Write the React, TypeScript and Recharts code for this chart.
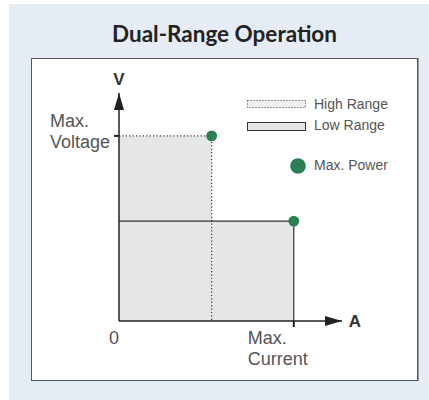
import React from "react";
import {
  ComposedChart,
  Area,
  Line,
  Scatter,
  XAxis,
  YAxis,
  Legend,
} from "recharts";

// normalised: 1 = max current / max voltage
const highRangeFill = [
  { a: 0, v: 1 },
  { a: 0.53, v: 1 },
];
const lowRangeFill = [
  { a: 0, v: 0.54 },
  { a: 1, v: 0.54 },
];
const highRangeEdge = [
  { a: 0, v: 1 },
  { a: 0.53, v: 1 },
  { a: 0.53, v: 0 },
];
const lowRangeEdge = [
  { a: 0, v: 0.54 },
  { a: 1, v: 0.54 },
  { a: 1, v: 0 },
];
const maxPower = [
  { a: 0.53, v: 1 },
  { a: 1, v: 0.54 },
];
const arrowTips = [
  { a: 1.276, v: 0, dir: "right", name: "A" },
  { a: 0, v: 1.232, dir: "up", name: "V" },
];
const xTicks = [0, 1];
const yTicks = [1];
const xTickLabels: Record<number, string[]> = { 0: ["0"], 1: ["Max.", "Current"] };
const yTickLabels: Record<number, string[]> = { 1: ["Max.", "Voltage"] };
const legendItems = ["High Range", "Low Range", "Max. Power"];

const GREEN = "#2a7f55";
const FILL = "#e5e6e8";
const INK = "#222";
const LABEL = "#555";
const FONT = "'Liberation Sans', Arial, sans-serif";

const XTick = (props: any) => {
  const { x, y, payload } = props;
  const lines = xTickLabels[payload.value] || [];
  if (payload.value === 0) {
    return (
      <text x={x - 5} y={y + 23} textAnchor="middle" fontSize={18} fill={LABEL} fontFamily={FONT}>
        {lines[0]}
      </text>
    );
  }
  return (
    <g>
      <line x1={x} y1={y} x2={x} y2={y + 6} stroke={INK} strokeWidth={2} />
      {lines.map((l, i) => (
        <text key={l} x={x - 46} y={y + 23 + i * 21} fontSize={18} fill={LABEL} fontFamily={FONT}>
          {l}
        </text>
      ))}
    </g>
  );
};

const YTick = (props: any) => {
  const { x, y, payload } = props;
  const lines = yTickLabels[payload.value] || [];
  return (
    <g>
      <line x1={x - 5} y1={y} x2={x} y2={y} stroke={INK} strokeWidth={2} />
      {lines.map((l, i) => (
        <text key={l} x={50} y={y - 9 + i * 21} fontSize={18} fill={LABEL} fontFamily={FONT}>
          {l}
        </text>
      ))}
    </g>
  );
};

const Arrow = (props: any) => {
  const { cx, cy } = props;
  const p = props.payload || {};
  if (p.dir === "right") {
    return (
      <g>
        <polygon points={`${cx},${cy} ${cx - 17},${cy - 5} ${cx - 17},${cy + 5}`} fill={INK} />
        <text x={cx + 13} y={cy + 6} textAnchor="middle" fontSize={17} fontWeight="bold" fill="#333" fontFamily={FONT}>
          {p.name}
        </text>
      </g>
    );
  }
  return (
    <g>
      <polygon points={`${cx},${cy} ${cx - 5},${cy + 17} ${cx + 5},${cy + 17}`} fill={INK} />
      <text x={cx} y={cy - 8} textAnchor="middle" fontSize={17} fontWeight="bold" fill="#333" fontFamily={FONT}>
        {p.name}
      </text>
    </g>
  );
};

const Dot = (props: any) => <circle cx={props.cx} cy={props.cy} r={5.4} fill={GREEN} />;

const LegendBox = () => (
  <svg width={170} height={85}>
    <rect x={2.5} y={6.5} width={58} height={7} fill="#eeeff0" stroke="#333" strokeDasharray="1 2" />
    <rect x={2.5} y={28.5} width={58} height={8} fill={FILL} stroke="#333" />
    <circle cx={53} cy={72} r={7.8} fill={GREEN} />
    {legendItems.map((t, i) => (
      <text key={t} x={69} y={[15, 36, 76][i]} fontSize={14} fill={LABEL} fontFamily={FONT}>
        {t}
      </text>
    ))}
  </svg>
);

export default function App() {
  return (
    <div style={{ position: "absolute", left: 0, top: 0, width: 429, height: 400 }}>
      <div style={{ position: "absolute", left: 9, top: 4, width: 420, height: 396, background: "#e5ecf6" }} />
      <div
        style={{
          position: "absolute",
          left: 31,
          top: 58,
          width: 385,
          height: 321,
          background: "#fff",
          border: "1px solid #555",
          boxShadow: "1px 0 0 #999",
        }}
      />
      <div
        style={{
          position: "absolute",
          left: 31,
          top: 20,
          width: 387,
          textAlign: "center",
          fontFamily: "Lato, 'Open Sans', sans-serif",
          fontWeight: 700,
          fontSize: 22.5,
          color: "#222",
          lineHeight: "28px",
        }}
      >
        Dual-Range Operation
      </div>
      <div style={{ position: "absolute", left: 0, top: 0 }}>
        <ComposedChart width={429} height={400} margin={{ top: 93, right: 87, bottom: 39, left: 39 }}>
          <XAxis
            dataKey="a"
            type="number"
            domain={[0, 1.276]}
            ticks={xTicks}
            height={40}
            tickSize={0}
            tickMargin={0}
            tickLine={false}
            axisLine={{ stroke: INK, strokeWidth: 1.5 }}
            tick={<XTick />}
          />
          <YAxis
            type="number"
            domain={[0, 1.232]}
            ticks={yTicks}
            width={80}
            tickSize={0}
            tickMargin={0}
            tickLine={false}
            axisLine={{ stroke: INK, strokeWidth: 1.5 }}
            tick={<YTick />}
          />
          <Area data={highRangeFill} dataKey="v" type="linear" stroke="none" fill={FILL} fillOpacity={1} isAnimationActive={false} name="High Range" />
          <Area data={lowRangeFill} dataKey="v" type="linear" stroke="none" fill={FILL} fillOpacity={1} isAnimationActive={false} name="Low Range" />
          <Line data={highRangeEdge} dataKey="v" type="linear" stroke="#333" strokeWidth={1.2} strokeDasharray="1.2 2.2" dot={false} isAnimationActive={false} />
          <Line data={lowRangeEdge} dataKey="v" type="linear" stroke="#333" strokeWidth={1.2} dot={false} isAnimationActive={false} />
          <Scatter data={maxPower} dataKey="v" shape={<Dot />} isAnimationActive={false} name="Max. Power" />
          <Scatter data={arrowTips} dataKey="v" shape={<Arrow />} isAnimationActive={false} legendType="none" />
          <Legend
            layout="vertical"
            align="center"
            verticalAlign="middle"
            content={<LegendBox />}
            wrapperStyle={{ left: 245, top: 94, width: 170, height: 85 }}
          />
        </ComposedChart>
      </div>
    </div>
  );
}
